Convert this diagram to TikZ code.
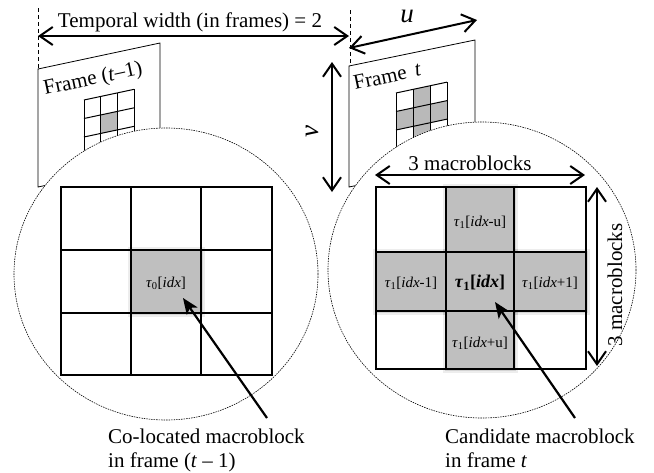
\documentclass[tikz,border=0pt]{standalone}
\usepackage{fontspec}
\setmainfont{Liberation Serif}
\usetikzlibrary{arrows.meta}
\begin{document}
\begin{tikzpicture}[x=1pt,y=-1pt,
  txt/.style={font=\fontsize{21}{25}\selectfont, inner sep=0pt},
  big/.style={font=\fontsize{27}{30}\selectfont, inner sep=0pt},
  lbl/.style={font=\fontsize{15}{18}\selectfont, inner sep=0pt},
  lblb/.style={font=\fontsize{18}{20}\selectfont\bfseries, inner sep=0pt},
  dimarrow/.style={line width=2pt, {Straight Barb[length=13pt,width=18pt]}-{Straight Barb[length=13pt,width=18pt]}},
  ptr/.style={line width=2.2pt, -{Stealth[length=16pt,width=13pt,inset=4pt]}},
  framebox/.style={draw, line width=0.8pt, fill=white},
  guide/.style={line width=0.8pt, dash pattern=on 4pt off 3pt},
  zoomring/.style={draw, fill=white, line width=0.6pt, dash pattern=on 1.5pt off 1pt},
  mb/.style={line width=1.2pt},
  sg/.style={line width=1pt},
  hot/.style={fill=gray!50, draw, line width=1.2pt},
  shade1/.style={fill=black, opacity=0.07},
  shade2/.style={fill=black, opacity=0.10},
]
\useasboundingbox (0,0) rectangle (654,472);

% dashed guide lines
\coordinate (g1a) at (38,8);  \coordinate (g1b) at (38,69);
\coordinate (g2a) at (350,10); \coordinate (g2b) at (350,64);
\draw[guide] (g1a) -- (g1b);
\draw[guide] (g2a) -- (g2b);

% temporal width arrow
\coordinate (tA) at (38,36); \coordinate (tB) at (349,36);
\draw[dimarrow] (tA) -- (tB);
\node[txt, anchor=base] (twl) at (190,27) {Temporal width (in frames) = 2};

% frames
\draw[framebox] (38,69) -- (160,43) -- (160,161) -- (38,187) -- cycle;
\draw[framebox] (349,66) -- (475,40) -- (475,161) -- (349,187) -- cycle;
\node[txt, anchor=base west, rotate=12] (f1lbl) at (45,95) {Frame (\textit{t}–1)};
\node[txt, anchor=base west, rotate=12] (f2lbl) at (355,90) {Frame\, \textit{t}};

% small grid, frame t-1
\begin{scope}[shift={(84,100)}, yslant=0.213]
  \fill[gray!55] (16.7,18.5) rectangle (33.4,37);
  \foreach \i in {0,1,2,3} \draw[sg] (\i*16.7,0) -- (\i*16.7,74);
  \foreach \j in {0,1,2,3} \draw[sg] (0,\j*18.5) -- (50.1,\j*18.5);
\end{scope}
% small grid, frame t
\begin{scope}[shift={(396,93)}, yslant=0.213]
  \fill[gray!55] (17,0) rectangle (34,74);
  \fill[gray!55] (0,18.5) rectangle (51,37);
  \foreach \i in {0,1,2,3} \draw[sg] (\i*17,0) -- (\i*17,74);
  \foreach \j in {0,1,2,3} \draw[sg] (0,\j*18.5) -- (51,\j*18.5);
\end{scope}

% zoom circles
\draw[zoomring] (166,274) ellipse [x radius=152pt, y radius=146pt];
\draw[zoomring] (482,270) ellipse [x radius=154pt, y radius=148pt];

% left big grid
\draw[mb] (61,187) rectangle (272,375);
\draw[mb] (131,187) -- (131,375) (201,187) -- (201,375);
\draw[mb] (61,250) -- (272,250) (61,313) -- (272,313);
\fill[shade1] (128,247) rectangle (205,317);
\fill[shade2] (129.5,248.5) rectangle (203,315);
\draw[hot] (131,250) rectangle (201,313);
\node[lbl] (c0) at (166,283) {\textit{τ}\textsubscript{0}[\textit{idx}]};

% right big grid
\draw[mb] (376,187) rectangle (586,369);
\draw[mb] (446,187) -- (446,369) (514,187) -- (514,369);
\draw[mb] (376,252) -- (586,252) (376,311) -- (586,311);
\foreach \a/\b/\c/\d in {446/187/514/252, 376/252/446/311, 446/252/514/311, 514/252/586/311, 446/311/514/369}{
  \fill[shade1] (\a-3,\b-3) rectangle (\c+4,\d+4);
  \fill[shade2] (\a-1.5,\b-1.5) rectangle (\c+2,\d+2);
}
\foreach \a/\b/\c/\d in {446/187/514/252, 376/252/446/311, 446/252/514/311, 514/252/586/311, 446/311/514/369}{
  \draw[hot] (\a,\b) rectangle (\c,\d);
}
\node[lbl] (cu) at (480,222) {\textit{τ}\textsubscript{1}[\textit{idx}-u]};
\node[lbl] (cl) at (411,283) {\textit{τ}\textsubscript{1}[\textit{idx}-1]};
\node[lblb] (cc) at (480,283) {\textit{τ}\textsubscript{1}[\textit{idx}]};
\node[lbl] (cr) at (550,283) {\textit{τ}\textsubscript{1}[\textit{idx}+1]};
\node[lbl] (cd) at (480,343) {\textit{τ}\textsubscript{1}[\textit{idx}+u]};

% u and v arrows
\coordinate (uA) at (349,48); \coordinate (uB) at (477,20);
\draw[dimarrow] (uA) -- (uB);
\node[big] (ulbl) at (407,16) {\textit{u}};
\coordinate (vA) at (332,62); \coordinate (vB) at (332,192);
\draw[dimarrow] (vA) -- (vB);
\node[big, rotate=90] (vlbl) at (312,132) {\textit{v}};

% 3 macroblocks arrows
\coordinate (hA) at (375,175); \coordinate (hB) at (585,175);
\draw[dimarrow] (hA) -- (hB);
\node[txt, anchor=base] (hlbl) at (470,170) {3 macroblocks};
\coordinate (wA) at (597,187); \coordinate (wB) at (597,366);
\draw[dimarrow] (wA) -- (wB);
\node[txt, rotate=90] (wlbl) at (615,285) {3 macroblocks};

% captions and pointers
\node[txt, anchor=base west] (cap1a) at (108,443) {Co-located macroblock};
\node[txt, anchor=base west] (cap1b) at (108,467) {in frame (\textit{t} – 1)};
\node[txt, anchor=base west] (cap2a) at (445,443) {Candidate macroblock};
\node[txt, anchor=base west] (cap2b) at (445,467) {in frame \textit{t}};
\coordinate (p1) at (267,418); \coordinate (q1) at (183,298);
\coordinate (p2) at (575,418); \coordinate (q2) at (495,302);
\draw[ptr] (p1) -- (q1);
\draw[ptr] (p2) -- (q2);
\end{tikzpicture}
\end{document}
